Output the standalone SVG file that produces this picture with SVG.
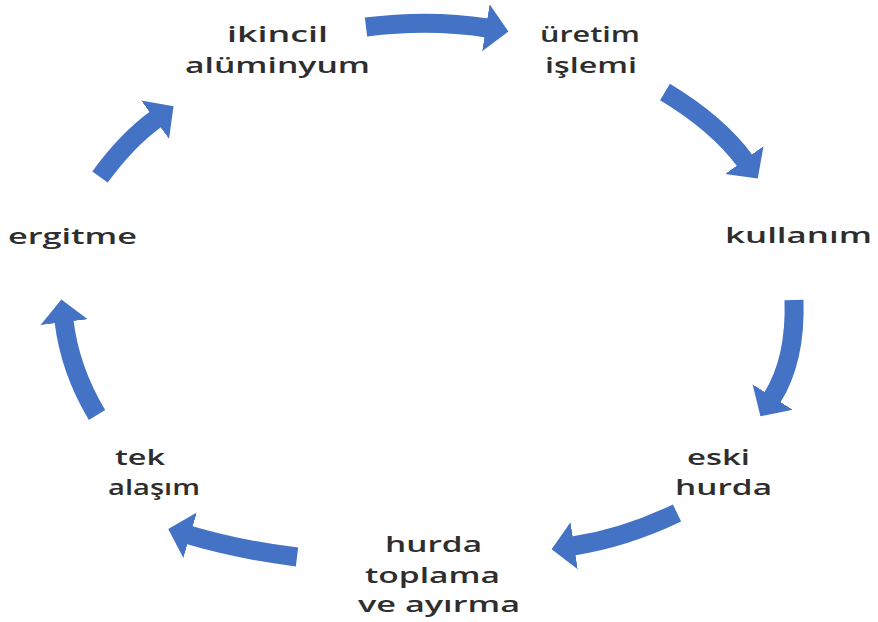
<svg xmlns="http://www.w3.org/2000/svg" width="878" height="622" viewBox="0 0 878 622">
<style>
.lbl{font-family:"Open Sans","DejaVu Sans",sans-serif;font-weight:600;font-size:22px;fill:#2e2e2e}
.arr{fill:none;stroke:#4472C4;stroke-width:19}
</style>
<defs>
<marker id="head" viewBox="0 -1.4 1.4 2.8" refX="0.06" refY="0" markerWidth="1.4" markerHeight="2.8" markerUnits="strokeWidth" orient="auto">
<path d="M0,-1.25 L1.2,0 L0,1.25 z" fill="#4472C4"/>
</marker>
</defs>
<rect width="878" height="622" fill="#ffffff"/>
<g id="connectors">
<path class="arr" d="M366,27 Q430,19 487,28" marker-end="url(#head)"/>
<path class="arr" d="M665,92 Q718,124 745,161" marker-end="url(#head)"/>
<path class="arr" d="M794,300 Q796,360 772,398" marker-end="url(#head)"/>
<path class="arr" d="M677,513 Q625,538 573,546" marker-end="url(#head)"/>
<path class="arr" d="M297,557 Q240,550 189,535" marker-end="url(#head)"/>
<path class="arr" d="M97,415 Q70,370 64,321" marker-end="url(#head)"/>
<path class="arr" d="M100,177 Q127,140 156,119" marker-end="url(#head)"/>
</g>
<g id="node-ikincil">
<text class="lbl" x="227" y="42" textLength="101" lengthAdjust="spacingAndGlyphs">ikincil</text>
<text class="lbl" x="185" y="73" textLength="185" lengthAdjust="spacingAndGlyphs">alüminyum</text>
</g>
<g id="node-uretim">
<text class="lbl" x="540" y="42" textLength="100" lengthAdjust="spacingAndGlyphs">üretim</text>
<text class="lbl" x="545" y="73" textLength="92" lengthAdjust="spacingAndGlyphs">işlemi</text>
</g>
<g id="node-kullanim">
<text class="lbl" x="725" y="243" textLength="147" lengthAdjust="spacingAndGlyphs">kullanım</text>
</g>
<g id="node-eski">
<text class="lbl" x="687" y="465" textLength="63" lengthAdjust="spacingAndGlyphs">eski</text>
<text class="lbl" x="675" y="495" textLength="97" lengthAdjust="spacingAndGlyphs">hurda</text>
</g>
<g id="node-toplama">
<text class="lbl" x="385" y="552" textLength="97" lengthAdjust="spacingAndGlyphs">hurda</text>
<text class="lbl" x="365" y="583" textLength="135" lengthAdjust="spacingAndGlyphs">toplama</text>
<text class="lbl" x="358" y="612" textLength="162" lengthAdjust="spacingAndGlyphs">ve ayırma</text>
</g>
<g id="node-tek">
<text class="lbl" x="115" y="465" textLength="50" lengthAdjust="spacingAndGlyphs">tek</text>
<text class="lbl" x="108" y="495" textLength="92" lengthAdjust="spacingAndGlyphs">alaşım</text>
</g>
<g id="node-ergitme">
<text class="lbl" x="8" y="244" textLength="129" lengthAdjust="spacingAndGlyphs">ergitme</text>
</g>
</svg>
